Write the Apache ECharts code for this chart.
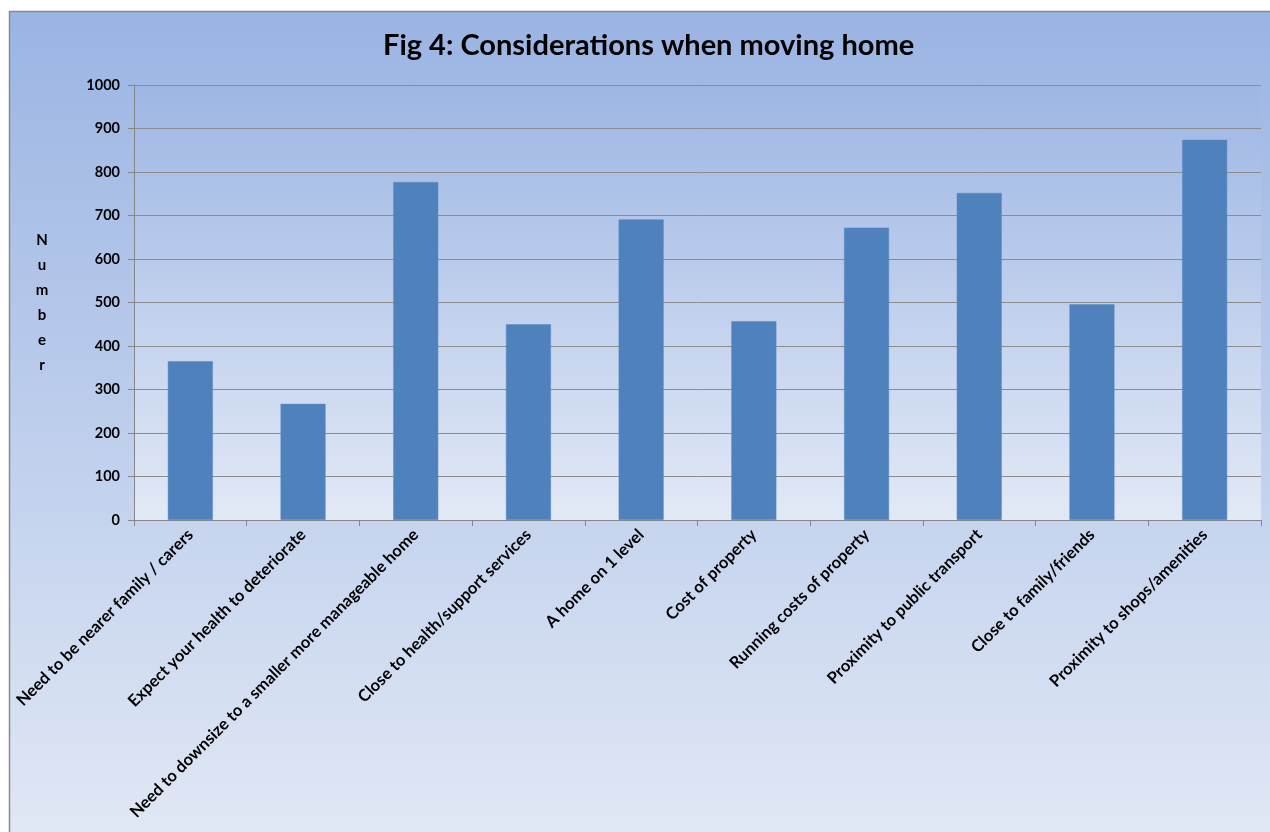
<!DOCTYPE html>
<html>
<head>
<meta charset="utf-8">
<title>Fig 4: Considerations when moving home</title>
<script src="https://cdn.jsdelivr.net/npm/echarts@6/dist/echarts.min.js"></script>
<style>
  html, body { margin: 0; padding: 0; background: #fff; }
  #main { width: 1270px; height: 832px; }
</style>
</head>
<body>
<div id="main"></div>
<script>
// categories and counts
const categories = [
  'Need to be nearer family / carers',
  'Expect your health to deteriorate',
  'Need to downsize to a smaller more manageable home',
  'Close to health/support services',
  'A home on 1 level',
  'Cost of property',
  'Running costs of property',
  'Proximity to public transport',
  'Close to family/friends',
  'Proximity to shops/amenities'
];
const counts = [365, 267, 777, 450, 691, 457, 672, 752, 496, 874];
const yTicks = { min: 0, max: 1000, interval: 100 };

const chart = echarts.init(document.getElementById('main'));

const font = 'Lato, "Open Sans", sans-serif';

chart.setOption({
  animation: false,
  backgroundColor: '#ffffff',
  textStyle: { fontFamily: font },
  graphic: [{
    type: 'rect',
    z: -10,
    shape: { x: 9.5, y: 11.5, width: 1270, height: 830 },
    style: {
      fill: new echarts.graphic.LinearGradient(0, 0, 0, 1, [
        { offset: 0, color: '#9ab4e3' },
        { offset: 1, color: '#e1e8f5' }
      ]),
      stroke: '#8a8a8a',
      lineWidth: 1.5
    }
  }],
  title: {
    text: 'Fig 4: Considerations when moving home',
    left: 378,
    top: 26,
    textStyle: { fontFamily: font, fontSize: 29, fontWeight: 'bold', color: '#000' }
  },
  grid: {
    left: 134, right: 9, top: 85, bottom: 312,
    show: true,
    borderWidth: 0,
    backgroundColor: new echarts.graphic.LinearGradient(0, 0, 0, 1, [
      { offset: 0, color: '#9db6e4' },
      { offset: 1, color: '#e2e9f6' }
    ])
  },
  xAxis: {
    type: 'category',
    data: categories,
    axisLine: { lineStyle: { color: '#868686', width: 1 } },
    axisTick: { show: true, length: 6, lineStyle: { color: '#868686' } },
    axisLabel: {
      rotate: 45,
      interval: 0,
      margin: 12,
      fontFamily: font,
      fontSize: 16.5,
      fontWeight: 'bold',
      color: '#000'
    }
  },
  yAxis: {
    type: 'value',
    min: yTicks.min,
    max: yTicks.max,
    interval: yTicks.interval,
    name: 'N\nu\nm\nb\ne\nr',
    nameLocation: 'middle',
    nameRotate: 0,
    nameGap: 92,
    nameTextStyle: {
      fontFamily: font,
      fontSize: 15,
      fontWeight: 'bold',
      color: '#000',
      lineHeight: 25,
      align: 'center',
      verticalAlign: 'middle'
    },
    axisLine: { show: true, lineStyle: { color: '#868686', width: 1 } },
    axisTick: { show: true, length: 6, lineStyle: { color: '#868686' } },
    axisLabel: {
      margin: 14,
      fontFamily: font,
      fontSize: 14.5,
      fontWeight: 'bold',
      color: '#000',
      formatter: (v) => String(v)
    },
    splitLine: { lineStyle: { color: '#8c8c8c', width: 1 } }
  },
  series: [{
    type: 'bar',
    data: counts,
    barWidth: 45,
    itemStyle: { color: '#4f81bd', borderColor: '#5a8ac4', borderWidth: 0.5 }
  }]
});
</script>
</body>
</html>
